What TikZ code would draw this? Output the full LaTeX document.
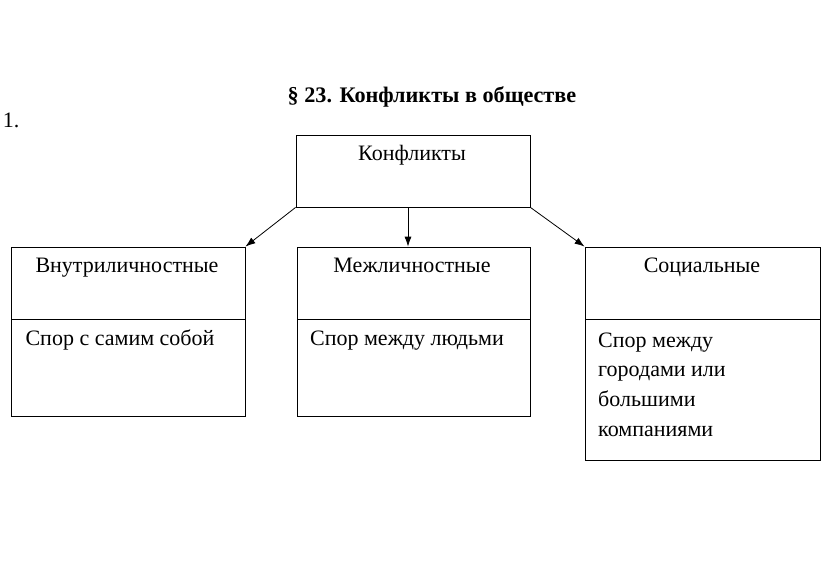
\documentclass[tikz,border=0pt]{standalone}
\usepackage{fontspec}
\setmainfont{Liberation Serif}
\usepackage{tikz}
\usetikzlibrary{arrows.meta}

\begin{document}
\begin{tikzpicture}
    [every node/.style={inner sep=0pt},
     x=1pt, y=-1pt,
     box/.style={rectangle, draw=black, line width=0.8pt, fill=none},
     txt/.style={font=\fontsize{22}{29.7}\selectfont, anchor=base}]
        \useasboundingbox (0,0) rectangle (828,562);
        \node (title) [txt, font=\fontsize{22.2}{26}\selectfont\bfseries] at (432.0, 102.0) {§ 23. Конфликты в обществе};
        \node (num) [txt] at (11.0, 127.0) {1.};
        \node (konf) [box, minimum width=234pt, minimum height=72pt] at (413.0, 171.0) {};
        \node (konftxt) [txt] at (412.0, 160.0) {Конфликты};
        \node (vnutr) [box, minimum width=234pt, minimum height=72pt] at (128.0, 283.0) {};
        \node (vnutrlow) [box, minimum width=234pt, minimum height=97pt] at (128.0, 367.5) {};
        \node (mezh) [box, minimum width=233pt, minimum height=72pt] at (413.5, 283.0) {};
        \node (mezhlow) [box, minimum width=233pt, minimum height=97pt] at (413.5, 367.5) {};
        \node (soc) [box, minimum width=235pt, minimum height=72pt] at (702.5, 283.0) {};
        \node (soclow) [box, minimum width=235pt, minimum height=141pt] at (702.5, 389.5) {};
        \node (vnutrtxt) [txt] at (127.0, 272.0) {Внутриличностные};
        \node (mezhtxt) [txt] at (412.0, 272.0) {Межличностные};
        \node (soctxt) [txt] at (702.0, 272.0) {Социальные};
        \node (vnutrspor) [txt] at (120.0, 345.0) {Спор с самим собой};
        \node (mezhspor) [txt] at (407.0, 345.0) {Спор между людьми};
        \node (socspor) [txt, align=left, anchor=north west] at (598.0, 332.5) {Спор между\\городами или\\большими\\компаниями};
        \draw [line width=0.8pt, -{Latex[length=10pt, width=7pt]}, color=black] (konf.south west) to (vnutr.north east);
        \draw [line width=0.8pt, -{Latex[length=10pt, width=7pt]}, color=black] ([xshift=-5pt]konf.south) to ([xshift=-5pt]konf.south |- mezh.north);
        \draw [line width=0.8pt, -{Latex[length=10pt, width=7pt]}, color=black] (konf.south east) to (soc.north west);
    \end{tikzpicture}
\end{document}
